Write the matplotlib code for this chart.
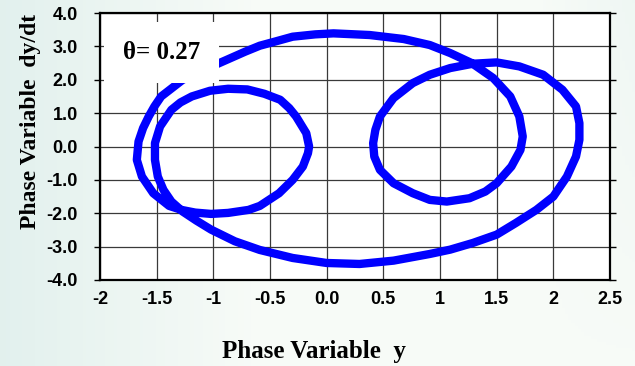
# %% phase portrait, theta = 0.27
import numpy as np
import matplotlib
matplotlib.use('Agg')
import matplotlib.pyplot as plt
from matplotlib.font_manager import FontProperties

# %% data (one closed orbit)
phase_y = [-1.00, -0.88, -0.72, -0.59, -0.46, -0.30, -0.10, 0.06, 0.38, 0.68,
           0.91, 1.09, 1.28, 1.47, 1.62, 1.70, 1.73, 1.71, 1.63, 1.50,
           1.40, 1.26, 1.06, 0.91, 0.76, 0.59, 0.47, 0.42, 0.41, 0.43,
           0.47, 0.59, 0.76, 0.91, 1.09, 1.29, 1.50, 1.70, 1.91, 2.08,
           2.20, 2.23, 2.23, 2.20, 2.12, 2.00, 1.85, 1.67, 1.50, 1.29,
           1.09, 0.91, 0.59, 0.29, 0.00, -0.30, -0.59, -0.81, -1.02, -1.15,
           -1.27, -1.37, -1.44, -1.49, -1.515, -1.515, -1.47, -1.37, -1.29, -1.19,
           -1.03, -0.87, -0.70, -0.55, -0.41, -0.33, -0.27, -0.18, -0.155, -0.165,
           -0.21, -0.30, -0.42, -0.59, -0.69, -0.87, -1.02, -1.16, -1.28, -1.39,
           -1.53, -1.63, -1.675, -1.66, -1.62, -1.57, -1.52, -1.46, -1.27, -1.13,
           -1.00]
phase_dydt = [2.42, 2.60, 2.84, 3.02, 3.14, 3.29, 3.36, 3.39, 3.34, 3.22,
              3.04, 2.80, 2.50, 2.05, 1.50, 0.90, 0.30, -0.10, -0.60, -1.10,
              -1.35, -1.55, -1.65, -1.60, -1.40, -1.10, -0.70, -0.30, 0.10, 0.50,
              0.90, 1.45, 1.90, 2.15, 2.35, 2.48, 2.52, 2.40, 2.15, 1.70,
              1.20, 0.70, 0.20, -0.30, -0.90, -1.50, -1.90, -2.29, -2.64, -2.89,
              -3.09, -3.22, -3.42, -3.52, -3.49, -3.34, -3.10, -2.84, -2.49, -2.22,
              -1.95, -1.65, -1.30, -0.90, -0.40, 0.10, 0.60, 1.10, 1.32, 1.50,
              1.67, 1.73, 1.71, 1.58, 1.40, 1.15, 0.90, 0.40, 0.00, -0.20,
              -0.60, -1.00, -1.40, -1.78, -1.90, -1.99, -2.02, -1.98, -1.90, -1.78,
              -1.40, -0.90, -0.40, 0.15, 0.55, 0.90, 1.20, 1.50, 2.00, 2.20,
              2.42]

x_ticks = [-2, -1.5, -1, -0.5, 0, 0.5, 1, 1.5, 2, 2.5]
x_tick_labels = ['-2', '-1.5', '-1', '-0.5', '0.0', '0.5', '1', '1.5', '2', '2.5']
y_ticks = [-4, -3, -2, -1, 0, 1, 2, 3, 4]
y_tick_labels = ['-4.0', '-3.0', '-2.0', '-1.0', '0.0', '1.0', '2.0', '3.0', '4.0']
theta_label = 'θ= 0.27'

# %% figure
fig = plt.figure(figsize=(6.35, 3.66), dpi=100)

# soft background like the slide
bg = fig.add_axes([0, 0, 1, 1], zorder=-1)
gx = np.linspace(0, 1, 200)
gy = np.linspace(0, 1, 120)
GX, GY = np.meshgrid(gx, gy)
shade = np.clip(1 - GX * 2.5, 0, 1) * 0.75 + np.clip(GX - 0.85, 0, 1) * 2.0 * GY
c0 = np.array([0.97, 0.985, 0.97])
c1 = np.array([0.86, 0.93, 0.92])
img = c0[None, None, :] * (1 - shade[..., None]) + c1[None, None, :] * shade[..., None]
bg.imshow(img, aspect='auto', extent=[0, 1, 0, 1], origin='lower')
bg.axis('off')

ax = fig.add_axes([100 / 635, 1 - 280 / 366, 510 / 635, 267 / 366])
ax.set_facecolor('white')
ax.plot(phase_y, phase_dydt, color='#0000ff', lw=6,
        solid_joinstyle='round', solid_capstyle='round', zorder=3)

ax.set_xlim(-2, 2.5)
ax.set_ylim(-4, 4)
ax.set_xticks(x_ticks)
ax.set_xticklabels(x_tick_labels)
ax.set_yticks(y_ticks)
ax.set_yticklabels(y_tick_labels)
ax.grid(True, color='#3a3a3a', lw=0.9)
ax.set_axisbelow(True)

tick_font = FontProperties(family='Liberation Sans', weight='bold', size=13)
for lab in ax.get_xticklabels() + ax.get_yticklabels():
    lab.set_fontproperties(tick_font)
ax.tick_params(axis='x', length=0, pad=8)
ax.tick_params(axis='y', length=4, width=1, pad=12, right=True)
for sp in ax.spines.values():
    sp.set_linewidth(1.6)
    sp.set_color('black')

ax.text(-1.797, 2.626, theta_label, family='Liberation Serif', weight='bold',
        size=18, ha='left', va='baseline', zorder=5,
        bbox=dict(boxstyle='square,pad=0.75', fc='white', ec='none'))

fig.text(314 / 635, 1 - 358 / 366, 'Phase Variable  y', family='Liberation Serif',
         weight='bold', size=18, ha='center', va='baseline')
fig.text(31 / 635, 1 - 121 / 366, 'Phase Variable  dy/dt', family='Liberation Serif',
         weight='bold', size=17, ha='center', va='center', rotation=90)

fig.savefig('out.png', dpi=100)
